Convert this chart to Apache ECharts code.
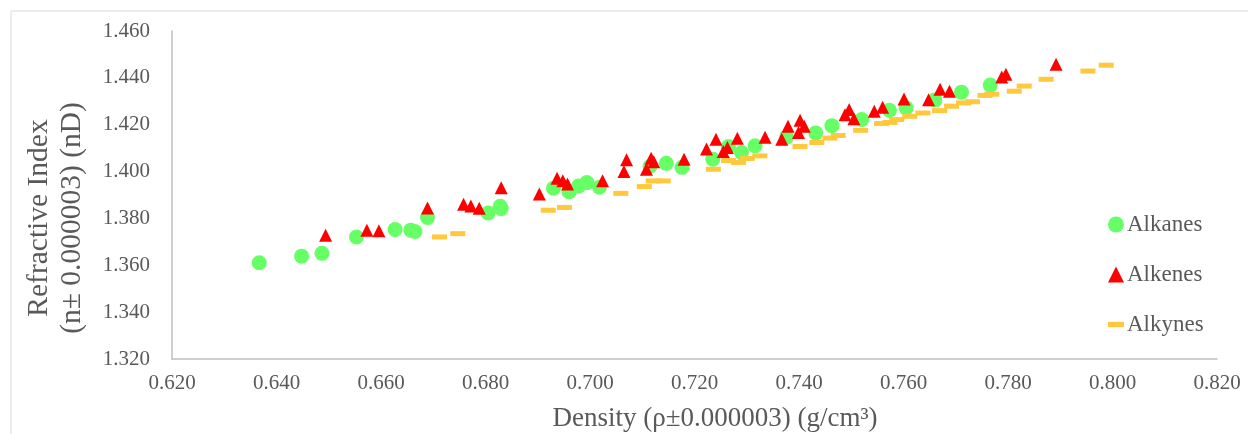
<!DOCTYPE html>
<html>
<head>
<meta charset="utf-8">
<script src="https://cdn.jsdelivr.net/npm/echarts@6/dist/echarts.min.js"></script>
<style>
  html, body { margin: 0; padding: 0; background: #ffffff; }
  #chart { width: 1248px; height: 434px; }
</style>
</head>
<body>
<div id="chart"></div>
<script>
// Density (g/cm3) vs refractive index (nD) for three hydrocarbon families
const alkanes = [
  [0.6367, 1.3611], [0.6448, 1.3639], [0.6487, 1.3651], [0.6553, 1.3721],
  [0.6627, 1.3753], [0.6657, 1.3750], [0.6665, 1.3744], [0.6689, 1.3804],
  [0.6805, 1.3823], [0.6828, 1.3852], [0.6830, 1.3842], [0.6930, 1.3929],
  [0.6960, 1.3914], [0.6978, 1.3938], [0.6994, 1.3953], [0.7018, 1.3933],
  [0.7115, 1.4023], [0.7146, 1.4035], [0.7176, 1.4018], [0.7235, 1.4053],
  [0.7265, 1.4107], [0.7290, 1.4081], [0.7316, 1.4110], [0.7376, 1.4147],
  [0.7432, 1.4165], [0.7463, 1.4196], [0.7520, 1.4222], [0.7573, 1.4262],
  [0.7605, 1.4272], [0.7660, 1.4305], [0.7711, 1.4339], [0.7766, 1.4369]
];

const alkenes = [
  [0.6494, 1.3728], [0.6573, 1.3750], [0.6596, 1.3747], [0.6689, 1.3845],
  [0.6758, 1.3861], [0.6772, 1.3853], [0.6788, 1.3843], [0.6830, 1.3931],
  [0.6903, 1.3904], [0.6937, 1.3972], [0.6948, 1.3961], [0.6957, 1.3947],
  [0.7024, 1.3961], [0.7070, 1.4050], [0.7065, 1.4000], [0.7117, 1.4057],
  [0.7122, 1.4042], [0.7108, 1.4010], [0.7180, 1.4053], [0.7223, 1.4096],
  [0.7241, 1.4138], [0.7255, 1.4086], [0.7263, 1.4103], [0.7282, 1.4142],
  [0.7335, 1.4147], [0.7367, 1.4138], [0.7379, 1.4193], [0.7399, 1.4167],
  [0.7402, 1.4219], [0.7410, 1.4193], [0.7488, 1.4243], [0.7496, 1.4265],
  [0.7505, 1.4225], [0.7544, 1.4258], [0.7560, 1.4275], [0.7601, 1.4310],
  [0.7648, 1.4307], [0.7670, 1.4351], [0.7688, 1.4343], [0.7788, 1.4404],
  [0.7796, 1.4415], [0.7892, 1.4458]
];

const alkynes = [
  [0.6712, 1.3721], [0.6747, 1.3735], [0.6920, 1.3835], [0.6951, 1.3847],
  [0.7059, 1.3907], [0.7104, 1.3936], [0.7121, 1.3960], [0.7140, 1.3960],
  [0.7236, 1.4010], [0.7265, 1.4047], [0.7284, 1.4039], [0.7301, 1.4056],
  [0.7325, 1.4067], [0.7402, 1.4107], [0.7434, 1.4124], [0.7459, 1.4143],
  [0.7475, 1.4154], [0.7518, 1.4176], [0.7558, 1.4205], [0.7574, 1.4210],
  [0.7587, 1.4222], [0.7612, 1.4236], [0.7637, 1.4250], [0.7669, 1.4260],
  [0.7692, 1.4279], [0.7715, 1.4293], [0.7732, 1.4298], [0.7756, 1.4325],
  [0.7769, 1.4330], [0.7812, 1.4343], [0.7831, 1.4365], [0.7873, 1.4394],
  [0.7953, 1.4429], [0.7988, 1.4454]
];

const seriesNames = ['Alkanes', 'Alkenes', 'Alkynes'];
const xTitle = 'Density (ρ±0.000003) (g/cm³)';
const yTitle = ['Refractive Index', '(n± 0.000003) (nD)'];
const xRange = [0.62, 0.82];
const yRange = [1.32, 1.46];

const FONT = '"Liberation Serif", "Times New Roman", serif';
const TEXT = '#595959';
const AXIS = '#bfbfbf';

const chart = echarts.init(document.getElementById('chart'), null, { renderer: 'canvas' });

chart.setOption({
  backgroundColor: '#ffffff',
  animation: false,
  grid: { left: 172, right: 31, top: 31, bottom: 75 },
  xAxis: {
    type: 'value',
    min: xRange[0], max: xRange[1], interval: 0.02,
    axisLine: { show: true, lineStyle: { color: AXIS, width: 1.5 } },
    axisTick: { show: false },
    splitLine: { show: false },
    axisLabel: {
      margin: 14, color: TEXT, fontFamily: FONT, fontSize: 21,
      formatter: v => v.toFixed(3)
    }
  },
  yAxis: {
    type: 'value',
    min: yRange[0], max: yRange[1], interval: 0.02,
    axisLine: { show: true, lineStyle: { color: AXIS, width: 1.5 } },
    axisTick: { show: false },
    splitLine: { show: false },
    axisLabel: {
      margin: 22, color: TEXT, fontFamily: FONT, fontSize: 21,
      formatter: v => v.toFixed(3)
    }
  },
  legend: {
    orient: 'vertical',
    left: 1103, top: 208,
    itemWidth: 16, itemHeight: 16, itemGap: 27,
    symbolKeepAspect: true,
    textStyle: { color: TEXT, fontFamily: FONT, fontSize: 23, padding: [0, 0, 0, -2] },
    data: [
      { name: seriesNames[0], icon: 'circle' },
      { name: seriesNames[1], icon: 'triangle' },
      { name: seriesNames[2], icon: 'path://M0,0H30V10H0Z' }
    ]
  },
  graphic: [
    {
      type: 'rect', silent: true, z: -1,
      shape: { x: 11, y: 11, width: 1300, height: 500 },
      style: { fill: 'none', stroke: '#d9d9d9', lineWidth: 1 }
    },
    {
      type: 'text', silent: true,
      x: 56, y: 218, rotation: Math.PI / 2,
      style: {
        text: yTitle.join('\n'), fill: TEXT, font: '29.5px ' + FONT,
        lineHeight: 33, textAlign: 'center', textVerticalAlign: 'middle'
      }
    },
    {
      type: 'text', silent: true,
      x: 715, y: 419,
      style: {
        text: xTitle, fill: TEXT, font: '27px ' + FONT,
        textAlign: 'center', textVerticalAlign: 'middle'
      }
    }
  ],
  series: [
    {
      name: seriesNames[0], type: 'scatter', data: alkanes,
      symbol: 'circle', symbolSize: 15,
      itemStyle: { color: '#66ff66', opacity: 1 }, z: 2
    },
    {
      name: seriesNames[1], type: 'scatter', data: alkenes,
      symbol: 'triangle', symbolSize: 13,
      itemStyle: { color: '#ff0000', opacity: 1 }, z: 3
    },
    {
      name: seriesNames[2], type: 'scatter', data: alkynes,
      symbol: 'rect', symbolSize: [15, 5],
      itemStyle: { color: '#ffc83d', opacity: 1 }, z: 4
    }
  ]
});
</script>
</body>
</html>
